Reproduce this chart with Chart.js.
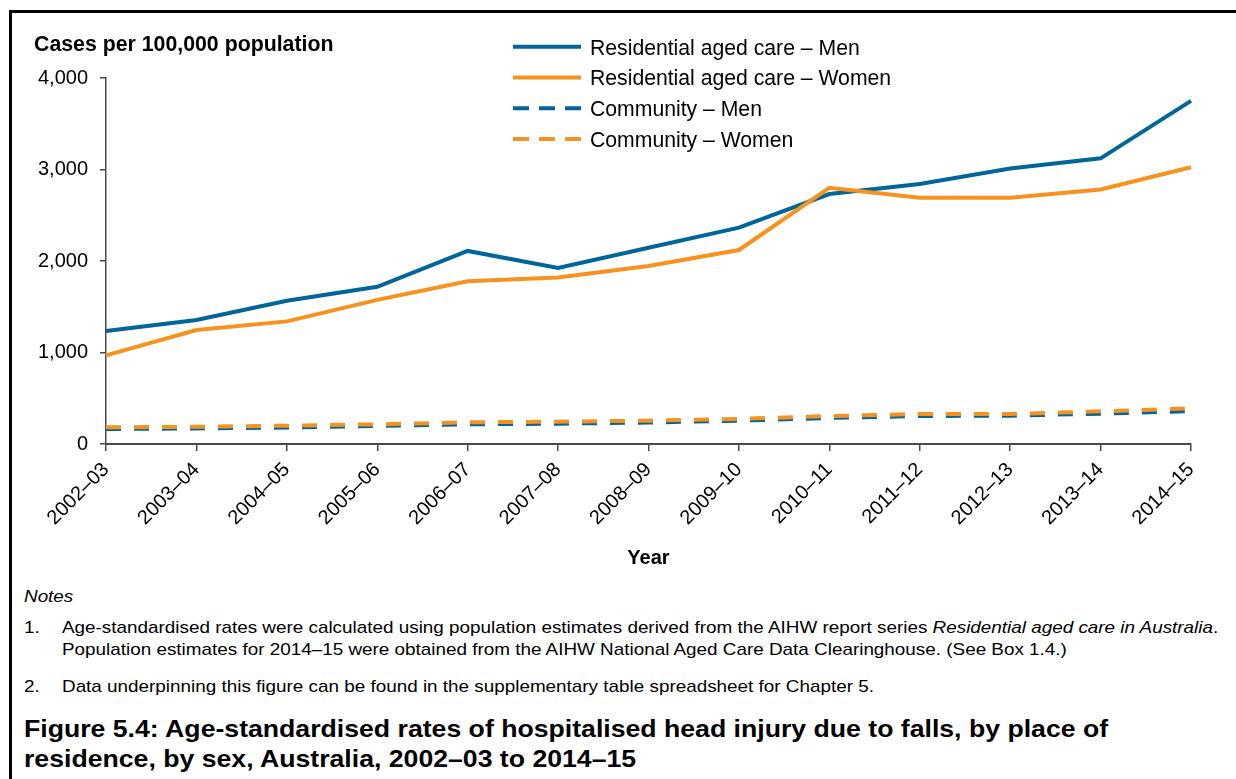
<!DOCTYPE html>
<html>
<head>
<meta charset="utf-8">
<script src="https://cdn.jsdelivr.net/npm/chart.js@4.4.1/dist/chart.umd.min.js"></script>
<style>
    html, body { margin: 0; padding: 0; background: #fff; }
    body { width: 1236px; height: 779px; position: relative; overflow: hidden; font-family: "Liberation Sans", Arial, sans-serif; color: #000; }
    #frame { position: absolute; left: 9px; top: 10px; width: 1240px; height: 800px; border-top: 3px solid #000; border-left: 3px solid #000; }
    #chart { position: absolute; left: 0; top: 0; }
    .txt { position: absolute; white-space: nowrap; transform-origin: 0 50%; }
    .note { font-size: 17px; transform: scaleX(1.11); }
    .caption { font-size: 24px; font-weight: bold; transform: scaleX(1.11); }
</style>
</head>
<body>
<div id="frame"></div>
<canvas id="chart" width="1236" height="580"></canvas>

<div class="txt note" style="left:24px; top:587px; font-style:italic;">Notes</div>
<div class="txt note" style="left:24px; top:618px;">1.</div>
<div class="txt note" style="left:62px; top:618px;">Age-standardised rates were calculated using population estimates derived from the AIHW report series <i>Residential aged care in Australia</i>.</div>
<div class="txt note" style="left:62px; top:640px;">Population estimates for 2014–15 were obtained from the AIHW National Aged Care Data Clearinghouse. (See Box 1.4.)</div>
<div class="txt note" style="left:24px; top:677px;">2.</div>
<div class="txt note" style="left:62px; top:677px;">Data underpinning this figure can be found in the supplementary table spreadsheet for Chapter 5.</div>
<div class="txt caption" style="left:24px; top:715px;">Figure 5.4: Age-standardised rates of hospitalised head injury due to falls, by place of</div>
<div class="txt caption" style="left:24px; top:745px;">residence, by sex, Australia, 2002–03 to 2014–15</div>

<script>
// Datos (casos por 100.000 habitantes)
const years = ["2002–03", "2003–04", "2004–05", "2005–06", "2006–07", "2007–08", "2008–09",
    "2009–10", "2010–11", "2011–12", "2012–13", "2013–14", "2014–15"];
const racMen = [1235, 1355, 1565, 1718, 2110, 1925, 2145, 2365, 2732, 2842, 3010, 3122, 3750];
const racWomen = [968, 1246, 1340, 1575, 1778, 1820, 1945, 2120, 2800, 2692, 2690, 2782, 3025];
const commMen = [164, 170, 180, 198, 215, 222, 235, 255, 285, 306, 310, 331, 360];
const commWomen = [182, 188, 200, 215, 237, 244, 255, 275, 305, 328, 328, 357, 390];
const yTicks = [0, 1000, 2000, 3000, 4000];

const BLUE = "#00669a";
const ORANGE = "#f8921e";
const AXIS = "#4a4a4a";
const FONT = "'Liberation Sans', Arial, sans-serif";

// Título del eje Y y leyenda dibujados a mano
const extrasPlugin = {
    id: "extras",
    afterDraw(chart) {
        const ctx = chart.ctx;
        ctx.save();
        ctx.fillStyle = "#000";
        ctx.font = "bold 21.3px " + FONT;
        ctx.textAlign = "left";
        ctx.textBaseline = "alphabetic";
        ctx.fillText("Cases per 100,000 population", 34, 51);

        ctx.font = "21.2px " + FONT;
        ctx.textBaseline = "middle";
        chart.data.datasets.forEach((ds, i) => {
            let y = 46.7 + i * 30.8;
            ctx.beginPath();
            ctx.strokeStyle = ds.borderColor;
            ctx.lineWidth = 4;
            ctx.setLineDash(ds.borderDash ? [16, 10] : []);
            ctx.moveTo(513, y);
            ctx.lineTo(581, y);
            ctx.stroke();
            ctx.setLineDash([]);
            ctx.fillText(ds.label, 590, y + 2);
        });
        ctx.restore();
    }
};

function createChart() {
    let ctx = document.getElementById("chart").getContext("2d");
    return new Chart(ctx, {
        type: "line",
        data: {
            labels: years,
            datasets: [
                { label: "Residential aged care – Men", data: racMen, borderColor: BLUE, order: 2 },
                { label: "Residential aged care – Women", data: racWomen, borderColor: ORANGE, order: 1 },
                { label: "Community – Men", data: commMen, borderColor: BLUE, borderDash: [15, 13], order: 4 },
                { label: "Community – Women", data: commWomen, borderColor: ORANGE, borderDash: [15, 13], order: 3 }
            ]
        },
        options: {
            responsive: false,
            animation: false,
            devicePixelRatio: 1,
            elements: {
                line: { borderWidth: 4, tension: 0, fill: false, borderCapStyle: "butt" },
                point: { radius: 0, hoverRadius: 0 }
            },
            layout: { padding: { top: 78, right: 45, bottom: 10, left: 0 } },
            plugins: { legend: { display: false }, tooltip: { enabled: false } },
            scales: {
                x: {
                    offset: false,
                    grid: { drawOnChartArea: false, drawTicks: true, tickLength: 7, color: AXIS, lineWidth: 1.5 },
                    border: { display: true, color: AXIS, width: 2 },
                    ticks: {
                        color: "#000", font: { family: FONT, size: 20 }, padding: 7,
                        minRotation: 45, maxRotation: 45, autoSkip: false
                    },
                    title: { display: true, text: "Year", color: "#000", font: { family: FONT, size: 20, weight: "bold" }, padding: 0 },
                    afterFit: (scale) => { scale.height = 126; }
                },
                y: {
                    min: 0,
                    max: 4000,
                    afterBuildTicks: (scale) => { scale.ticks = yTicks.map((v) => ({ value: v })); },
                    grid: { drawOnChartArea: false, drawTicks: true, tickLength: 6, color: AXIS, lineWidth: 1.5 },
                    border: { display: true, color: AXIS, width: 1.5 },
                    ticks: {
                        color: "#000", font: { family: FONT, size: 20 }, padding: 12,
                        callback: (v) => v.toLocaleString("en-US")
                    },
                    afterFit: (scale) => { scale.width = 106; }
                }
            }
        },
        plugins: [extrasPlugin]
    });
}

document.addEventListener("DOMContentLoaded", () => {
    createChart();
});
</script>
</body>
</html>
